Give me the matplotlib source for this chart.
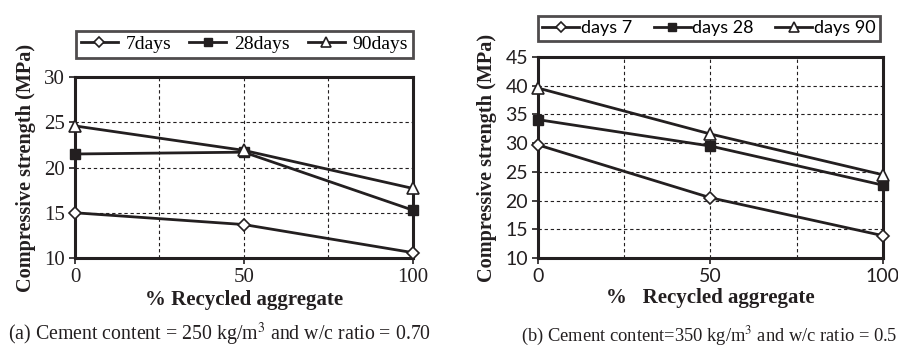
import matplotlib
matplotlib.use("Agg")
import matplotlib.pyplot as plt

x_vals = [0, 50, 100]
a_7 = [15.0, 13.7, 10.6]
a_28 = [21.5, 21.7, 15.3]
a_90 = [24.6, 21.9, 17.7]
b_7 = [29.7, 20.5, 13.9]
b_28 = [34.1, 29.5, 22.7]
b_90 = [39.6, 31.6, 24.5]
labels_a = ["7days", "28days", "90days"]
labels_b = ["days 7", "days 28", "days 90"]

INK = "#231f20"
SERIF = "Liberation Serif"
SANS = "Lato"

fig = plt.figure(figsize=(8.98, 3.52), dpi=100)

def style_axes(ax, ylim, yticks, tickfont, ticksize):
    ax.set_xlim(0, 100)
    ax.set_ylim(*ylim)
    ax.set_xticks([0, 50, 100])
    ax.set_xticks([25, 75], minor=True)
    ax.set_yticks(yticks)
    ax.tick_params(which="minor", length=0)
    ax.tick_params(which="major", direction="out", length=4, width=1.2, color=INK,
                   labelsize=ticksize, labelcolor=INK, pad=3)
    for lbl in ax.get_xticklabels() + ax.get_yticklabels():
        lbl.set_family(tickfont)
    ax.grid(True, which="both", linestyle=(0, (3, 2.5)), linewidth=0.8, color=INK)
    for s in ax.spines.values():
        s.set_linewidth(2.2)
        s.set_color(INK)
    ax.set_axisbelow(True)

def plot_series(ax, s7, s28, s90, labels):
    ax.plot(x_vals, s7, color=INK, lw=2, marker="D", ms=6, mfc="white", mec=INK, mew=1.2,
            label=labels[0], clip_on=False, zorder=3)
    ax.plot(x_vals, s28, color=INK, lw=2, marker="s", ms=7, mfc=INK, mec=INK,
            label=labels[1], clip_on=False, zorder=3)
    ax.plot(x_vals, s90, color=INK, lw=2, marker="^", ms=8, mfc="white", mec=INK, mew=1.2,
            label=labels[2], clip_on=False, zorder=3)

# Panel (a)
ax1 = fig.add_axes([0.0835, 0.267, 0.376, 0.514])
plot_series(ax1, a_7, a_28, a_90, labels_a)
style_axes(ax1, (10, 30), [10, 15, 20, 25, 30], SERIF, 15)
ax1.set_xlabel("% Recycled aggregate", family=SERIF, weight="bold", fontsize=15, color=INK, labelpad=2)
ax1.set_ylabel("Compressive strength (MPa)", family=SERIF, weight="bold", fontsize=14.6, color=INK, labelpad=6)
leg1 = ax1.legend(loc="lower left", bbox_to_anchor=(0.0846, 0.835, 0.375, 0.085),
                  bbox_transform=fig.transFigure, mode="expand", ncol=3, frameon=True,
                  fancybox=False, edgecolor=INK, handlelength=1.9, handletextpad=0.4,
                  borderaxespad=0, borderpad=0.25, markerscale=0.85,
                  prop={"family": SERIF, "size": 14})
leg1.get_frame().set_linewidth(2)
fig.text(0.009, 0.01, r"(a) Cement content = 250 kg/m$^3$ and w/c ratio = 0.70",
         family=SERIF, fontsize=14.3, color=INK, ha="left", va="bottom", math_fontfamily="stix")

# Panel (b)
ax2 = fig.add_axes([0.599, 0.267, 0.384, 0.571])
plot_series(ax2, b_7, b_28, b_90, labels_b)
style_axes(ax2, (10, 45), [10, 15, 20, 25, 30, 35, 40, 45], SANS, 14)
ax2.set_xlabel("%   Recycled aggregate", family=SERIF, weight="bold", fontsize=15, color=INK, labelpad=2)
ax2.set_ylabel("Compressive strength (MPa)", family=SERIF, weight="bold", fontsize=14.6, color=INK, labelpad=6)
leg2 = ax2.legend(loc="lower left", bbox_to_anchor=(0.599, 0.884, 0.381, 0.082),
                  bbox_transform=fig.transFigure, mode="expand", ncol=3, frameon=True,
                  fancybox=False, edgecolor=INK, handlelength=2.05, handletextpad=0.1,
                  borderaxespad=0, borderpad=0.25, markerscale=0.85, columnspacing=0.6,
                  prop={"family": SANS, "size": 13})
leg2.get_frame().set_linewidth(2)
fig.text(0.999, 0.01, r"(b) Cement content=350 kg/m$^3$ and w/c ratio = 0.5",
         family=SERIF, fontsize=13.3, color=INK, ha="right", va="bottom", math_fontfamily="stix")

fig.savefig("out.png", dpi=100, facecolor="white")
